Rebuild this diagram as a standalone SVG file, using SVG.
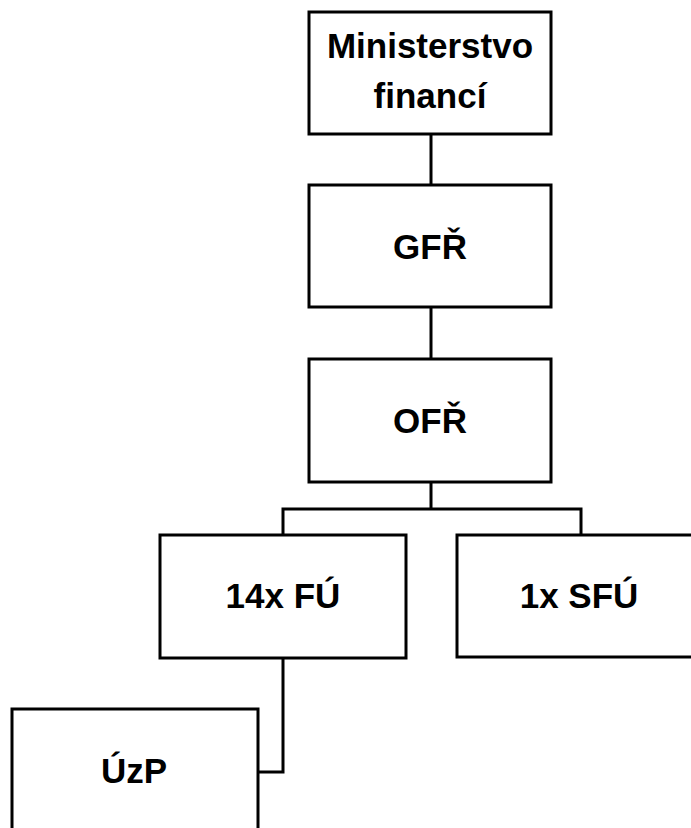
<svg xmlns="http://www.w3.org/2000/svg" width="691" height="828" viewBox="0 0 691 828">
<style>
.box{fill:#fff;stroke:#000;stroke-width:3}
.lbl{font-family:"Liberation Sans",Arial,sans-serif;font-weight:bold;font-size:35px;text-anchor:middle;fill:#000}
.con{fill:none;stroke:#000;stroke-width:3}
</style>
<rect width="691" height="828" fill="#fff"/>
<g id="connectors">
<path class="con" d="M431 134V185"/>
<path class="con" d="M431 307V359"/>
<path class="con" d="M431 482V509M283 535V509H581V535"/>
<path class="con" d="M283 658V772H258"/>
</g>
<g id="mf"><rect class="box" x="309" y="12" width="242" height="122"/><text class="lbl" x="430" y="58">Ministerstvo</text><text class="lbl" x="430" y="108">financí</text></g>
<g id="gfr"><rect class="box" x="309" y="185" width="242" height="122"/><text class="lbl" x="430" y="259">GFŘ</text></g>
<g id="ofr"><rect class="box" x="309" y="359" width="242" height="123"/><text class="lbl" x="430" y="433">OFŘ</text></g>
<g id="fu"><rect class="box" x="160" y="535" width="246" height="123"/><text class="lbl" x="283" y="608">14x FÚ</text></g>
<g id="sfu"><rect class="box" x="457" y="535" width="246" height="122"/><text class="lbl" x="579" y="608">1x SFÚ</text></g>
<g id="uzp"><path class="box" d="M12 840V709H258V840"/><text class="lbl" x="134" y="783">ÚzP</text></g>
</svg>
